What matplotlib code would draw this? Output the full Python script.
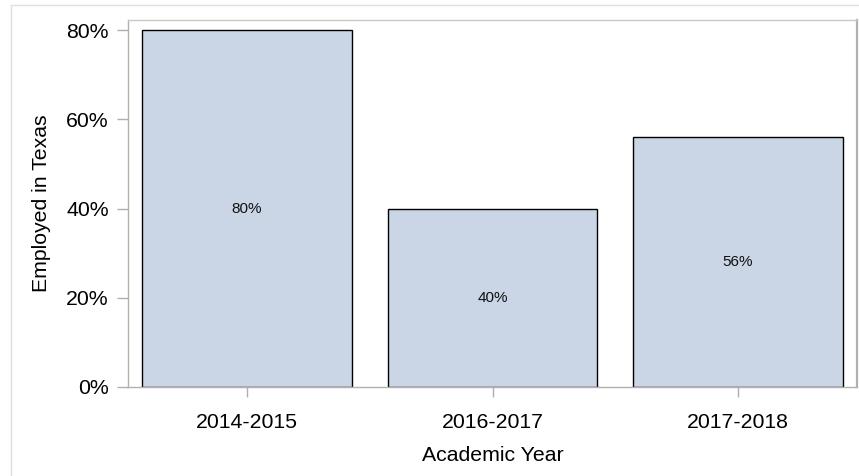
import matplotlib
matplotlib.use("Agg")
import matplotlib.pyplot as plt
from matplotlib.lines import Line2D
from matplotlib.ticker import FuncFormatter

categories = ["2014-2015", "2016-2017", "2017-2018"]
values = [80, 40, 56]
yticks = [0, 20, 40, 60, 80]

plt.rcParams['font.family'] = ['Liberation Sans', 'DejaVu Sans']

fig = plt.figure(figsize=(8.59, 4.76), dpi=100)
W, H = 859, 476
ax = fig.add_axes([128 / W, 1 - 387 / H, (857 - 128) / W, (387 - 20) / H])

x = list(range(len(categories)))
bars = ax.bar(x, values, width=0.855, color="#CAD5E5", edgecolor="black", linewidth=1.0, zorder=2)
for xi, v in zip(x, values):
    ax.text(xi, v / 2, f"{v}%", ha="center", va="center", fontsize=11, color="#111111", zorder=3)

ax.set_xlim(-0.485, 2.485)
ax.set_ylim(0, 82.25)
ax.set_xticks(x)
ax.set_xticklabels(categories)
ax.set_yticks(yticks)
ax.yaxis.set_major_formatter(FuncFormatter(lambda v, p: f"{int(v)}%"))

gray = "#b0b0b0"
for s in ax.spines.values():
    s.set_color(gray)
    s.set_linewidth(1.0)
ax.spines['top'].set_color("#c8c8c8")
ax.spines['right'].set_linewidth(1.6)

ax.tick_params(axis='both', colors=gray, labelcolor="black", labelsize=15.3)
ax.tick_params(axis='x', length=7.2, width=1, pad=11.5)
ax.tick_params(axis='y', length=7.9, width=1, pad=6)

ax.set_xlabel("Academic Year", fontsize=15.3, labelpad=10)
ax.set_ylabel("Employed in Texas", fontsize=15.3, labelpad=11)

# outer light border (left and top)
fig.add_artist(Line2D([10.5 / W, 10.5 / W], [0, 1 - 4.5 / H], transform=fig.transFigure, color="#e0e0e0", lw=1))
fig.add_artist(Line2D([10.5 / W, 1], [1 - 4.5 / H, 1 - 4.5 / H], transform=fig.transFigure, color="#e0e0e0", lw=1))

fig.savefig("out.png", dpi=100)
